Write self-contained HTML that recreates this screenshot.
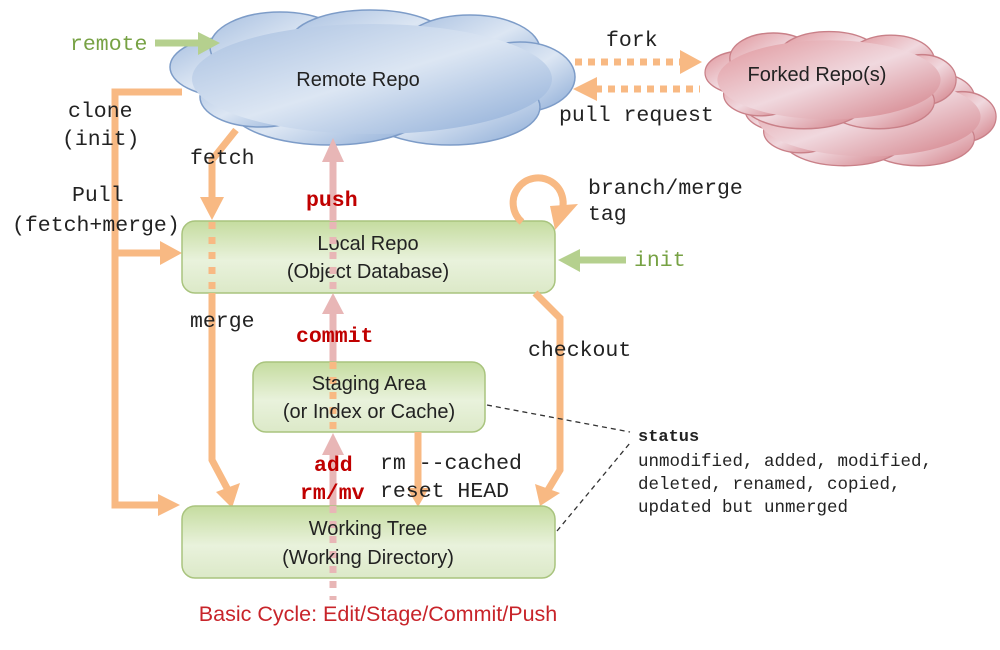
<!DOCTYPE html>
<html><head><meta charset="utf-8"><style>
html,body{margin:0;padding:0;background:#fff;width:1000px;height:650px;overflow:hidden}
svg{display:block}
.m{font-family:"Liberation Mono","DejaVu Sans Mono",monospace;font-size:21.5px;fill:#222}
.s{font-family:"Liberation Sans",sans-serif;font-size:20px;fill:#222;text-anchor:middle}
.r{fill:#c00000;font-weight:bold}
.g{fill:#77a244}
</style></head><body>
<svg width="1000" height="650" viewBox="0 0 1000 650">
<defs>
<linearGradient id="bg" x1="0" y1="0" x2="1" y2="1"><stop offset="0" stop-color="#a7bfe0"/><stop offset="0.5" stop-color="#dce6f3"/><stop offset="1" stop-color="#8aaad6"/></linearGradient>
<linearGradient id="pg" x1="0" y1="0" x2="1" y2="1"><stop offset="0" stop-color="#e0959b"/><stop offset="0.5" stop-color="#f0d8de"/><stop offset="1" stop-color="#d27c84"/></linearGradient>
<linearGradient id="gg" x1="0" y1="0" x2="0" y2="1"><stop offset="0" stop-color="#c5dc9f"/><stop offset="0.55" stop-color="#e9f2dc"/><stop offset="1" stop-color="#dce9c8"/></linearGradient>
<g id="cloud"><ellipse cx="60" cy="55" rx="60" ry="30"/><ellipse cx="110" cy="35" rx="70" ry="35"/><ellipse cx="200" cy="30" rx="80" ry="32"/><ellipse cx="300" cy="38" rx="70" ry="35"/><ellipse cx="350" cy="65" rx="55" ry="35"/><ellipse cx="280" cy="95" rx="90" ry="38"/><ellipse cx="160" cy="95" rx="100" ry="38"/><ellipse cx="90" cy="85" rx="60" ry="30"/></g>
</defs>
<g transform="translate(170,12)" fill="url(#bg)" stroke="#7d9cc8" stroke-width="1.5"><use href="#cloud"/></g>
<g transform="translate(172,14)" fill="url(#bg)"><ellipse cx="200" cy="65" rx="180" ry="55"/></g>
<text class="s" x="358" y="86">Remote Repo</text>
<g transform="translate(745,70) scale(0.62,0.72)" fill="url(#pg)" stroke="#c98088" stroke-width="2"><use href="#cloud"/><ellipse cx="200" cy="65" rx="180" ry="55" stroke="none"/></g>
<g transform="translate(705,33) scale(0.62,0.72)" fill="url(#pg)" stroke="#c98088" stroke-width="2"><use href="#cloud"/><ellipse cx="200" cy="65" rx="180" ry="55" stroke="none"/></g>
<text class="s" x="817" y="81">Forked Repo(s)</text>
<line x1="575" y1="62" x2="685" y2="62" stroke="#f8b983" stroke-width="7" stroke-dasharray="7,6"/>
<polygon points="680,50 702,62 680,74" fill="#f8b983"/>
<line x1="595" y1="89" x2="700" y2="89" stroke="#f8b983" stroke-width="7" stroke-dasharray="7,6"/>
<polygon points="597,77 573,89 597,101" fill="#f8b983"/>
<text class="m" x="606" y="46">fork</text>
<text class="m" x="559" y="121">pull request</text>
<line x1="155" y1="43" x2="200" y2="43" stroke="#b5d08e" stroke-width="7"/>
<polygon points="198,32 220,43 198,55" fill="#b5d08e"/>
<text class="m g" x="70" y="50">remote</text>
<polyline points="182,92 115,92 115,505 160,505" fill="none" stroke="#f8b983" stroke-width="7"/>
<polygon points="158,494 180,505 158,516" fill="#f8b983"/>
<line x1="115" y1="253" x2="162" y2="253" stroke="#f8b983" stroke-width="7"/>
<polygon points="160,241 182,253 160,265" fill="#f8b983"/>
<polyline points="236,130 212,160 212,200" fill="none" stroke="#f8b983" stroke-width="7"/>
<polygon points="200,197 212,220 224,197" fill="#f8b983"/>
<rect x="182" y="221" width="373" height="72" rx="13" fill="url(#gg)" stroke="#a9c47e" stroke-width="1.5"/>
<line x1="212" y1="222" x2="212" y2="293" stroke="#f8b983" stroke-width="7" stroke-dasharray="7,8"/>
<polyline points="212,293 212,460 228,490" fill="none" stroke="#f8b983" stroke-width="7"/>
<polygon points="216,492 232,508 240,483" fill="#f8b983"/>
<text class="s" x="368" y="250">Local Repo</text>
<text class="s" x="368" y="278">(Object Database)</text>
<polyline points="535,293 560,318 560,470 548,490" fill="none" stroke="#f8b983" stroke-width="7"/>
<polygon points="535,484 540,506 560,493" fill="#f8b983"/>
<path d="M522,222 A25,25 0 1 1 560,215" fill="none" stroke="#f8b983" stroke-width="7"/>
<polygon points="550,206 578,204 555,230" fill="#f8b983"/>
<text class="m" x="588" y="194">branch/merge</text>
<text class="m" x="588" y="220">tag</text>
<line x1="578" y1="260" x2="626" y2="260" stroke="#b5d08e" stroke-width="7"/>
<polygon points="580,249 558,260 580,272" fill="#b5d08e"/>
<text class="m g" x="634" y="266">init</text>
<line x1="333" y1="160" x2="333" y2="221" stroke="#e8b6b6" stroke-width="7"/>
<polygon points="322,162 333,138 344,162" fill="#e8b6b6"/>
<line x1="333" y1="222" x2="333" y2="293" stroke="#e8b6b6" stroke-width="7" stroke-dasharray="7,8"/>
<line x1="333" y1="310" x2="333" y2="362" stroke="#e8b6b6" stroke-width="7"/>
<polygon points="322,314 333,293 344,314" fill="#e8b6b6"/>
<rect x="253" y="362" width="232" height="70" rx="13" fill="url(#gg)" stroke="#a9c47e" stroke-width="1.5"/>
<line x1="333" y1="362" x2="333" y2="432" stroke="#f8b983" stroke-width="7" stroke-dasharray="7,8"/>
<text class="s" x="369" y="390">Staging Area</text>
<text class="s" x="369" y="418">(or Index or Cache)</text>
<line x1="333" y1="452" x2="333" y2="506" stroke="#e8b6b6" stroke-width="7"/>
<polygon points="322,455 333,433 344,455" fill="#e8b6b6"/>
<line x1="418" y1="432" x2="418" y2="490" stroke="#f8b983" stroke-width="7"/>
<polygon points="407,488 418,507 429,488" fill="#f8b983"/>
<rect x="182" y="506" width="373" height="72" rx="13" fill="url(#gg)" stroke="#a9c47e" stroke-width="1.5"/>
<line x1="333" y1="506" x2="333" y2="600" stroke="#e8b6b6" stroke-width="7" stroke-dasharray="7,8"/>
<text class="s" x="368" y="535">Working Tree</text>
<text class="s" x="368" y="564">(Working Directory)</text>
<text class="s" x="378" y="621" style="fill:#c8242a;font-size:21.5px">Basic Cycle: Edit/Stage/Commit/Push</text>
<text class="m" x="68" y="117">clone</text>
<text class="m" x="62" y="145">(init)</text>
<text class="m" x="190" y="164">fetch</text>
<text class="m" x="72" y="201">Pull</text>
<text class="m" x="12" y="231">(fetch+merge)</text>
<text class="m" x="190" y="327">merge</text>
<text class="m r" x="306" y="206">push</text>
<text class="m r" x="296" y="342">commit</text>
<text class="m r" x="314" y="471">add</text>
<text class="m r" x="300" y="499">rm/mv</text>
<text class="m" x="380" y="469">rm --cached</text>
<text class="m" x="380" y="497">reset HEAD</text>
<text class="m" x="528" y="356">checkout</text>
<polyline points="487,405 630,432" fill="none" stroke="#333" stroke-width="1.3" stroke-dasharray="5,4"/>
<polyline points="557,531 630,443" fill="none" stroke="#333" stroke-width="1.3" stroke-dasharray="5,4"/>
<text class="m" x="638" y="441" style="font-size:17px;font-weight:bold">status</text>
<text class="m" x="638" y="466" style="font-size:17.5px">unmodified, added, modified,</text>
<text class="m" x="638" y="489" style="font-size:17.5px">deleted, renamed, copied,</text>
<text class="m" x="638" y="512" style="font-size:17.5px">updated but unmerged</text>
</svg>
</body></html>
